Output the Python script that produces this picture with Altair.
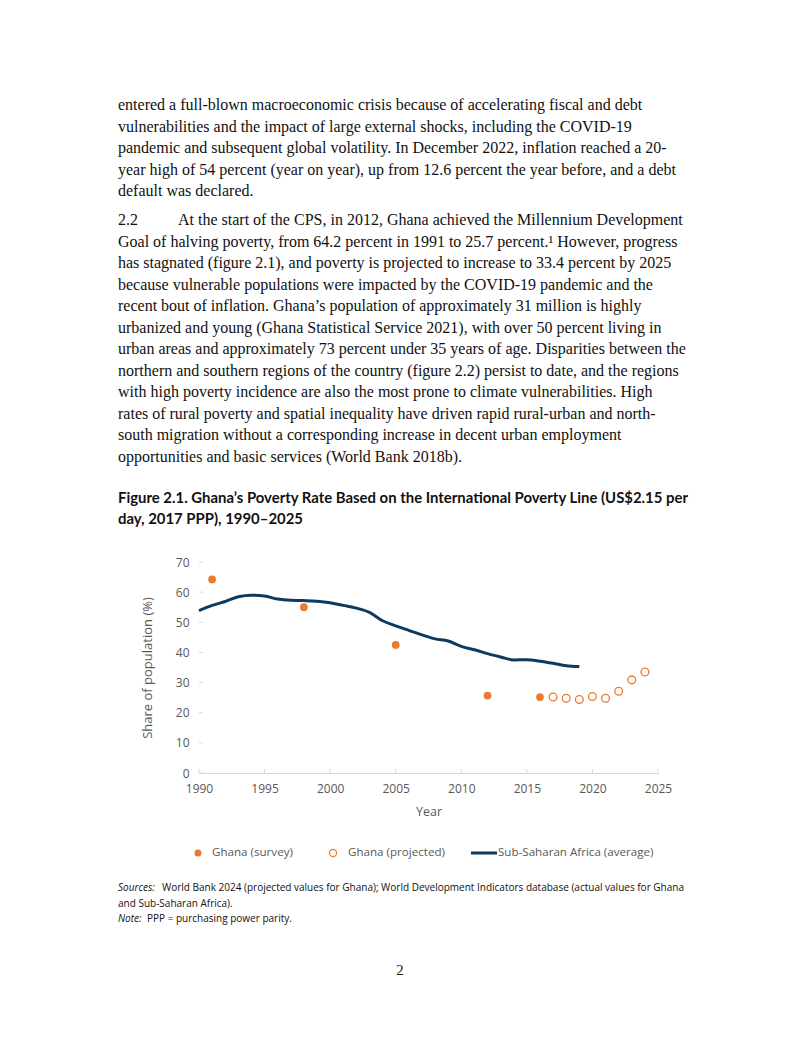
import altair as alt
import pandas as pd

# ---------------- data ----------------
ssa_years = list(range(1990, 2020))
ssa_values = [53.9, 55.6, 56.9, 58.5, 59.0, 58.7, 57.7, 57.3, 57.2, 57.0,
              56.5, 55.6, 54.7, 53.3, 50.5, 48.8, 47.3, 45.8, 44.5, 43.8,
              42.0, 40.9, 39.6, 38.5, 37.5, 37.6, 37.1, 36.4, 35.6, 35.3]
survey_years = [1991, 1998, 2005, 2012, 2016]
survey_values = [64.2, 55.0, 42.5, 25.7, 25.2]
proj_years = [2017, 2018, 2019, 2020, 2021, 2022, 2023, 2024]
proj_values = [25.2, 24.8, 24.4, 25.4, 24.8, 27.1, 30.9, 33.5]
x_ticks = [1990, 1995, 2000, 2005, 2010, 2015, 2020, 2025]
y_ticks = [0, 10, 20, 30, 40, 50, 60, 70]

para1 = [
    "entered a full-blown macroeconomic crisis because of accelerating fiscal and debt",
    "vulnerabilities and the impact of large external shocks, including the COVID-19",
    "pandemic and subsequent global volatility. In December 2022, inflation reached a 20-",
    "year high of 54 percent (year on year), up from 12.6 percent the year before, and a debt",
    "default was declared.",
]
para2_num = "2.2"
para2 = [
    "At the start of the CPS, in 2012, Ghana achieved the Millennium Development",
    "Goal of halving poverty, from 64.2 percent in 1991 to 25.7 percent.\u00b9 However, progress",
    "has stagnated (figure 2.1), and poverty is projected to increase to 33.4 percent by 2025",
    "because vulnerable populations were impacted by the COVID-19 pandemic and the",
    "recent bout of inflation. Ghana\u2019s population of approximately 31 million is highly",
    "urbanized and young (Ghana Statistical Service 2021), with over 50 percent living in",
    "urban areas and approximately 73 percent under 35 years of age. Disparities between the",
    "northern and southern regions of the country (figure 2.2) persist to date, and the regions",
    "with high poverty incidence are also the most prone to climate vulnerabilities. High",
    "rates of rural poverty and spatial inequality have driven rapid rural-urban and north-",
    "south migration without a corresponding increase in decent urban employment",
    "opportunities and basic services (World Bank 2018b).",
]
title_lines = [
    "Figure 2.1. Ghana\u2019s Poverty Rate Based on the International Poverty Line (US$2.15 per",
    "day, 2017 PPP), 1990\u20132025",
]
source_italic = ["Sources:", "Note:"]
source_lines = [
    "World Bank 2024 (projected values for Ghana); World Development Indicators database (actual values for Ghana",
    "and Sub-Saharan Africa).",
    "PPP = purchasing power parity.",
]
legend_labels = ["Ghana (survey)", "Ghana (projected)", "Sub-Saharan Africa (average)"]
page_number = "2"

# ---------------- layout ----------------
W, H = 459, 211            # plot area
PX0, PY0 = 199, 562        # plot origin on the page
ORANGE = "#EA7A30"
NAVY = "#0B3B63"
GREY = "#595959"
SANS = "Open Sans"
TSANS = "Lato"
SERIF = "Liberation Serif"


def rx(x):
    return x - PX0


def ry(y):
    return y - PY0


xs = alt.Scale(domain=[1990, 2025], nice=False, zero=False)
ys = alt.Scale(domain=[0, 70], nice=False)

x_axis = alt.Axis(values=x_ticks, format="d", grid=False, ticks=False,
                  domainColor="#D9D9D9", domainWidth=1, labelColor=GREY,
                  labelFont=SANS, labelFontSize=12, labelPadding=10,
                  titleFont=SANS, titleFontSize=12.5, titleFontWeight="normal",
                  titleColor=GREY, titlePadding=11, labelFlush=False)
y_axis = alt.Axis(values=y_ticks, grid=False, ticks=False, domain=False,
                  labelColor=GREY, labelFont=SANS, labelFontSize=12,
                  labelPadding=10, titleFont=SANS, titleFontSize=13,
                  titleFontWeight="normal", titleColor=GREY, titlePadding=21)
x_enc = alt.X("year:Q", scale=xs, title="Year", axis=x_axis)
y_enc = alt.Y("value:Q", scale=ys, title="Share of population (%)", axis=y_axis)

ssa = pd.DataFrame({"year": ssa_years, "value": ssa_values})
survey = pd.DataFrame({"year": survey_years, "value": survey_values})
proj = pd.DataFrame({"year": proj_years, "value": proj_values})

line = alt.Chart(ssa).mark_line(color=NAVY, strokeWidth=3, interpolate="monotone").encode(
    x=x_enc, y=y_enc)
pts_survey = alt.Chart(survey).mark_circle(size=60, color=ORANGE, opacity=1).encode(
    x=x_enc, y=y_enc)
pts_proj = alt.Chart(proj).mark_point(shape="circle", size=60, filled=False, color=ORANGE,
                                      strokeWidth=1.3, opacity=1).encode(x=x_enc, y=y_enc)

xtick_rules = alt.Chart(pd.DataFrame({"year": x_ticks})).mark_rule(color="#D9D9D9").encode(
    x=x_enc, y=alt.value(H), y2=alt.value(H - 4))
ytick_rules = alt.Chart(pd.DataFrame({"value": y_ticks})).mark_rule(color="#D9D9D9").encode(
    y=y_enc, x=alt.value(0), x2=alt.value(4))


def text_layer(df, **mark):
    return alt.Chart(df).mark_text(**mark).encode(
        x=alt.X("tx:Q", scale=None),
        y=alt.Y("ty:Q", scale=None),
        text="txt:N",
    )


BODY_X = 118
LH = 21.5
body_rows = []
for i, t in enumerate(para1):
    body_rows.append({"tx": rx(BODY_X), "ty": ry(105 + i * LH), "txt": t})
body_rows.append({"tx": rx(BODY_X), "ty": ry(220), "txt": para2_num})
for i, t in enumerate(para2):
    body_rows.append({"tx": rx(178 if i == 0 else BODY_X), "ty": ry(220 + i * LH), "txt": t})
body_df = pd.DataFrame(body_rows)
body = text_layer(body_df, align="left", baseline="middle",
                  font=SERIF, fontSize=16, color="#111111")
pnum = text_layer(pd.DataFrame({"tx": [rx(400)], "ty": [ry(970)], "txt": [page_number]}),
                  align="center", baseline="middle", font=SERIF, fontSize=15, color="#222222")

title_df = pd.DataFrame({"tx": [rx(BODY_X)] * 2, "ty": [ry(499), ry(520)], "txt": title_lines})
title = text_layer(title_df, align="left", baseline="middle", font=TSANS, fontSize=14.9,
                   fontWeight="bold", color="#111111")

src_it_df = pd.DataFrame({"tx": [rx(BODY_X)] * 2, "ty": [ry(888), ry(919)], "txt": source_italic})
src_it = text_layer(src_it_df, align="left", baseline="middle", font=SANS, fontSize=10,
                    fontStyle="italic", color="#111111")
src_df = pd.DataFrame({"tx": [rx(162), rx(BODY_X), rx(147)],
                       "ty": [ry(888), ry(904), ry(919)], "txt": source_lines})
src = text_layer(src_df, align="left", baseline="middle", font=SANS, fontSize=10,
                 color="#111111")

LEG_Y = 853
leg_text_df = pd.DataFrame({"tx": [rx(212), rx(348), rx(498)], "ty": [ry(LEG_Y)] * 3,
                            "txt": legend_labels})
leg_text = text_layer(leg_text_df, align="left", baseline="middle", font=SANS, fontSize=11.6,
                      color=GREY)
leg_dot = alt.Chart(pd.DataFrame({"k": [legend_labels[0]]})).mark_circle(
    size=50, color=ORANGE, opacity=1).encode(x=alt.value(rx(198)), y=alt.value(ry(LEG_Y)))
leg_ring = alt.Chart(pd.DataFrame({"k": [legend_labels[1]]})).mark_point(
    shape="circle", size=50, filled=False, color=ORANGE, strokeWidth=1.2, opacity=1).encode(
    x=alt.value(rx(333)), y=alt.value(ry(LEG_Y)))
leg_line = alt.Chart(pd.DataFrame({"k": [legend_labels[2]]})).mark_rule(
    color=NAVY, strokeWidth=3).encode(x=alt.value(rx(471)), x2=alt.value(rx(497)),
                                      y=alt.value(ry(LEG_Y)))

chart = alt.layer(
    xtick_rules, ytick_rules, line, pts_survey, pts_proj,
    body, pnum, title, src_it, src, leg_text, leg_dot, leg_ring, leg_line,
).properties(
    width=W, height=H,
    autosize=alt.AutoSizeParams(type="none"),
    padding={"left": PX0 - 8, "top": PY0 - 8, "right": 786 - (PX0 - 8) - W,
             "bottom": 1015 - (PY0 - 8) - H},
    background="white",
).configure_view(stroke=None)

chart.save("out.html", embed_options={"renderer": "svg", "actions": False})
